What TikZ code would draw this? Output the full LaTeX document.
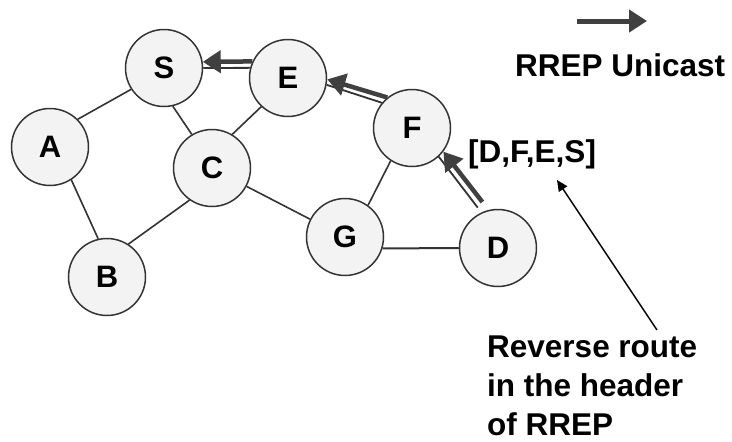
\documentclass[tikz,border=0pt]{standalone}
\usepackage{fontspec}
\setmainfont{Liberation Sans}
\usetikzlibrary{arrows.meta}
\definecolor{nodefill}{HTML}{F3F3F3}
\definecolor{edgecol}{HTML}{333333}
\definecolor{rrepcol}{HTML}{404040}
\begin{document}
\begin{tikzpicture}[x=1pt,y=-1pt,
  host/.style={circle,draw=edgecol,line width=1.5pt,fill=nodefill,
    minimum size=77pt,inner sep=0pt,
    font=\fontsize{31}{36}\selectfont\bfseries},
  link/.style={draw=edgecol,line width=1.6pt},
  rrep/.style={draw=rrepcol,line width=4.5pt,
    -{Triangle[length=18pt,width=22pt]}},
  rrepside/.style={draw=edgecol,line width=1.8pt},
  caption/.style={inner sep=0pt,text=black,
    font=\fontsize{31.5}{39}\selectfont\bfseries},
  pointer/.style={draw=black,line width=1.4pt,
    -{Triangle[length=11pt,width=10pt]}}]
\useasboundingbox (0,0) rectangle (732,442);

% hosts
\node[host] (S) at (164,68)  {S};
\node[host] (E) at (288,78)  {E};
\node[host] (F) at (412,128) {F};
\node[host] (A) at (50,147)  {A};
\node[host] (C) at (212,168) {C};
\node[host] (G) at (345,237) {G};
\node[host] (D) at (498,248) {D};
\node[host] (B) at (107,277) {B};

% links
\draw[link] (A.45)  -- (S.213);
\draw[link] (A.-57) -- (B.103);
\draw[link] (S.-77) -- (C.121);
\draw[link] (C.59)  -- (E.227);
\draw[link] (B.57)  -- (C.235);
\draw[link] (C.-28) -- (G.153);
\draw[link] (G.54)  -- (F.237);
\draw[link,line width=2pt] (G.-17) -- (D.180);

% RREP path D -> F -> E -> S
\draw[rrepside] (E.165) -- (S.0);
\draw[rrep]     (E.155) -- (S.9);
\draw[rrepside] (F.140) -- (E.-10);
\draw[rrep]     (F.129) -- (E.-2);
\draw[rrepside,shorten <=6pt] (D.115) -- (F.-47);
\draw[rrep,shorten <=10pt]    (D.104) -- (F.-37);

% legend
\coordinate (legA) at (577,21);
\coordinate (legB) at (647,21);
\draw[rrep,line width=5pt] (legA) -- (legB);
\node[caption,anchor=base west] (legend) at (515,76) {RREP Unicast};

% route record
\node[caption,anchor=base west] (route) at (468,162) {[D,F,E,S]};
\node[caption,anchor=base west,align=left] (note) at (487,435)
  {Reverse route\\in the header\\of RREP};
\coordinate (ptail) at (657,330);
\coordinate (ptip)  at (557,180);
\draw[pointer] (ptail) -- (ptip);
\end{tikzpicture}
\end{document}
